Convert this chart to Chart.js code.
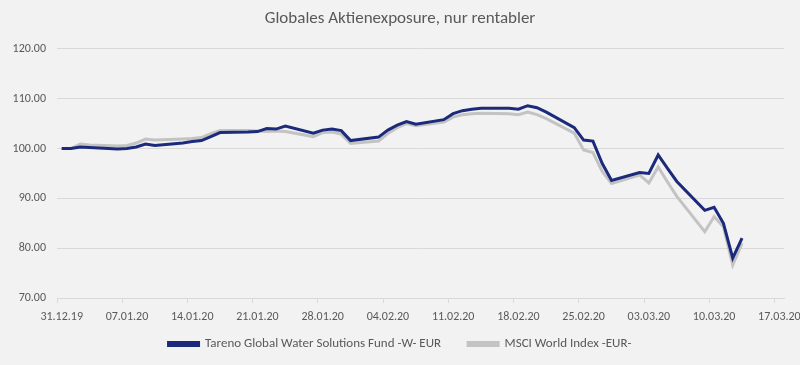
<!DOCTYPE html>
<html><head><meta charset="utf-8">
<script src="https://cdn.jsdelivr.net/npm/chart.js@4.4.1/dist/chart.umd.min.js"></script>
<style>html,body{margin:0;padding:0;background:#F2F2F2;overflow:hidden}#wrap{width:800px;height:365px}</style>
</head><body><div id="wrap"><canvas id="c" width="800" height="365"></canvas></div>
<script>
const chartTitle = 'Globales Aktienexposure, nur rentabler';
const seriesNames = ['Tareno Global Water Solutions Fund -W- EUR', 'MSCI World Index -EUR-'];
const dates = ['2019-12-31','2020-01-01','2020-01-02','2020-01-03','2020-01-06','2020-01-07','2020-01-08','2020-01-09','2020-01-10',
'2020-01-13','2020-01-14','2020-01-15','2020-01-16','2020-01-17','2020-01-20','2020-01-21','2020-01-22','2020-01-23','2020-01-24',
'2020-01-27','2020-01-28','2020-01-29','2020-01-30','2020-01-31','2020-02-03','2020-02-04','2020-02-05','2020-02-06','2020-02-07',
'2020-02-10','2020-02-11','2020-02-12','2020-02-13','2020-02-14','2020-02-17','2020-02-18','2020-02-19','2020-02-20','2020-02-21',
'2020-02-24','2020-02-25','2020-02-26','2020-02-27','2020-02-28','2020-03-02','2020-03-03','2020-03-04','2020-03-05','2020-03-06',
'2020-03-09','2020-03-10','2020-03-11','2020-03-12','2020-03-13'];
const fundValues = [100.0,100.0,100.3,100.2,99.9,100.0,100.3,100.9,100.6,
101.1,101.4,101.6,102.4,103.2,103.3,103.4,104.0,103.9,104.5,
103.1,103.7,103.9,103.6,101.6,102.3,103.7,104.7,105.4,104.9,
105.8,107.0,107.6,107.9,108.1,108.1,107.9,108.6,108.2,107.3,
104.2,101.7,101.5,97.0,93.6,95.2,95.0,98.7,96.0,93.4,
87.6,88.2,85.0,78.0,82.0];
const msciValues = [100.0,100.0,100.9,100.7,100.5,100.6,101.1,101.9,101.7,
101.9,102.0,102.2,103.0,103.6,103.6,103.5,103.4,103.5,103.4,
102.4,103.2,103.3,102.9,101.0,101.5,103.0,104.2,105.0,104.6,
105.3,106.3,106.8,107.0,107.1,107.0,106.8,107.3,106.8,106.0,
103.1,99.7,99.2,95.4,93.0,94.7,93.1,96.3,93.3,90.4,
83.3,86.3,84.3,76.6,81.0];
const xTickLabels = ['31.12.19','07.01.20','14.01.20','21.01.20','28.01.20','04.02.20','11.02.20','18.02.20','25.02.20','03.03.20','10.03.20','17.03.20'];
const yTickValues = [70,80,90,100,110,120];

const DAY = 86400000;
const t0 = Date.parse(dates[0] + 'T00:00:00Z');
const dayIndex = d => Math.round((Date.parse(d + 'T00:00:00Z') - t0) / DAY);
const toPoints = vals => dates.map((d, i) => ({x: dayIndex(d), y: vals[i]}));
// Excel date axis "between tick marks": each date sits in the middle of its day slot
const xMin = -0.5, xMax = (xTickLabels.length - 1) * 7 + 0.5;

const FONT = 'Carlito, Lato';
const GREY = '#595959';
const GRID = '#D9D9D9';

new Chart(document.getElementById('c'), {
  type: 'line',
  data: {
    datasets: [
      {label: seriesNames[0], data: toPoints(fundValues), borderColor: '#1C2A7C', backgroundColor: '#1C2A7C', borderWidth: 3, pointRadius: 0, tension: 0},
      {label: seriesNames[1], data: toPoints(msciValues), borderColor: '#C3C3C3', backgroundColor: '#C3C3C3', borderWidth: 3, pointRadius: 0, tension: 0}
    ]
  },
  options: {
    responsive: false, animation: false, devicePixelRatio: 1,
    layout: {padding: {left: 0, right: 0, top: 0, bottom: 4.5}},
    plugins: {
      tooltip: {enabled: false},
      title: {display: true, text: chartTitle, color: GREY, font: {family: FONT, size: 17, weight: 'normal'}, padding: {top: 8.5, bottom: 20}},
      legend: {position: 'bottom', labels: {color: GREY, font: {family: FONT, size: 13}, boxWidth: 30, boxHeight: 3, padding: 27}}
    },
    scales: {
      x: {
        type: 'linear', min: xMin, max: xMax,
        afterBuildTicks: s => { s.ticks = xTickLabels.map((l, i) => ({value: xMin + i * 7})); },
        afterFit: s => { s.height = 12.5; s.paddingLeft = 0; s.paddingRight = 16; s._computeLabelArea = () => undefined; },
        ticks: {color: GREY, font: {family: FONT, size: 12}, padding: 7, maxRotation: 0, autoSkip: false, labelOffset: 4.7,
          callback: (v, i) => xTickLabels[i]},
        grid: {drawOnChartArea: false, drawTicks: true, tickLength: 5, color: GRID},
        border: {display: true, color: GRID, width: 1}
      },
      y: {
        min: 70, max: 120,
        afterBuildTicks: s => { s.ticks = yTickValues.map(v => ({value: v})); },
        afterFit: s => { s.width = 57; },
        ticks: {color: GREY, font: {family: FONT, size: 12}, padding: 11, callback: v => v.toFixed(2)},
        grid: {color: GRID, drawTicks: false, lineWidth: 1},
        border: {display: false}
      }
    }
  }
});
</script></body></html>
